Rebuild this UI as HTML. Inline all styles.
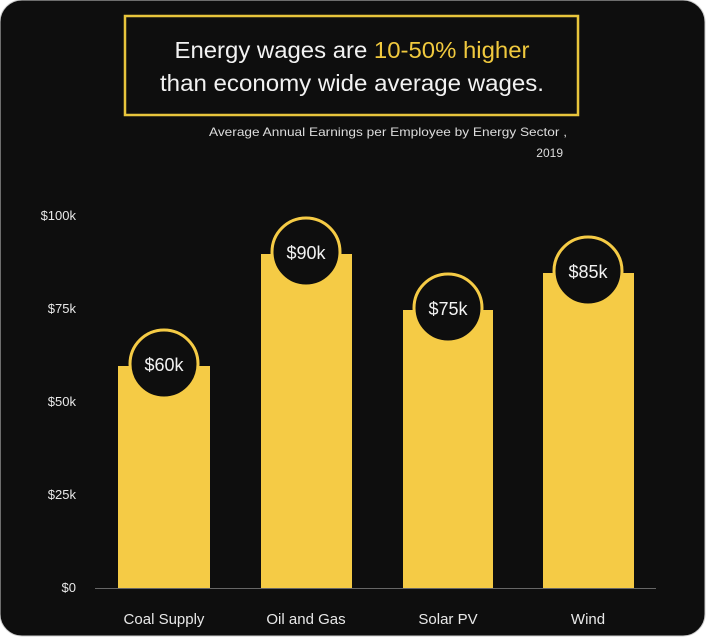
<!DOCTYPE html>
<html><head><style>
body{margin:0;background:#fff;}
svg{display:block;font-family:"Liberation Sans",sans-serif;}
</style></head><body>
<svg width="707" height="638" viewBox="0 0 707 638">
<rect x="0" y="0" width="705" height="636" rx="22" fill="#0e0e0e" stroke="#ccc" stroke-width="1"/>
<rect x="125" y="16" width="453" height="99" fill="none" stroke="#e8c53c" stroke-width="2.5"/>
<text x="352" y="58" text-anchor="middle" font-size="23" fill="#f2f2f2" textLength="355" lengthAdjust="spacingAndGlyphs">Energy wages are <tspan fill="#f0c93e">10-50% higher</tspan></text>
<text x="352" y="91" text-anchor="middle" font-size="23" fill="#f2f2f2" textLength="384" lengthAdjust="spacingAndGlyphs">than economy wide average wages.</text>
<text x="567" y="136" text-anchor="end" font-size="12" fill="#ddd" textLength="358" lengthAdjust="spacingAndGlyphs">Average Annual Earnings per Employee by Energy Sector ,</text>
<text x="563" y="157" text-anchor="end" font-size="12" fill="#ddd">2019</text>
<g font-size="13" fill="#e8e8e8" text-anchor="end">
<text x="76" y="220">$100k</text><text x="76" y="313">$75k</text><text x="76" y="406">$50k</text><text x="76" y="499">$25k</text><text x="76" y="592">$0</text>
</g>
<line x1="95" y1="588.5" x2="656" y2="588.5" stroke="#666" stroke-width="1"/>
<g fill="#f5cb45">
<rect x="118" y="366" width="92" height="222"/>
<rect x="261" y="254" width="91" height="334"/>
<rect x="403" y="310" width="90" height="278"/>
<rect x="543" y="273" width="91" height="315"/>
</g>
<g fill="#0e0e0e" stroke="#f5cb45" stroke-width="3">
<circle cx="164" cy="364" r="34"/>
<circle cx="306" cy="252" r="34"/>
<circle cx="448" cy="308" r="34"/>
<circle cx="588" cy="271" r="34"/>
</g>
<g font-size="18" fill="#f2f2f2" text-anchor="middle">
<text x="164" y="371">$60k</text><text x="306" y="259">$90k</text><text x="448" y="315">$75k</text><text x="588" y="278">$85k</text>
</g>
<g font-size="15" fill="#e8e8e8" text-anchor="middle">
<text x="164" y="624">Coal Supply</text><text x="306" y="624">Oil and Gas</text><text x="448" y="624">Solar PV</text><text x="588" y="624">Wind</text>
</g>
</svg>
</body></html>
